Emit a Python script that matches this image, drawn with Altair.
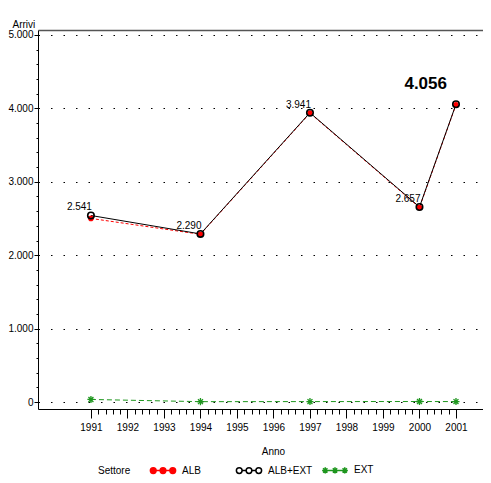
import altair as alt
import pandas as pd

years = [1991, 1994, 1997, 2000, 2001]
alb = [2501, 2285, 3935, 2650, 4050]
alb_ext = [2541, 2290, 3941, 2657, 4056]
ext = [35, 5, 6, 7, 6]
labels = ["2.541", "2.290", "3.941", "2.657", "4.056"]
series = ["ALB", "ALB+EXT", "EXT"]
colors = ["#ff0000", "#000000", "#1e961e"]

rows = []
for s, vals in zip(series, [alb, alb_ext, ext]):
    for y, v in zip(years, vals):
        rows.append({"Anno": y, "Arrivi": v, "Settore": s})
df = pd.DataFrame(rows)
lab = pd.DataFrame({"Anno": years, "Arrivi": alb_ext, "Label": labels})

FONT = "Liberation Sans, Arial, sans-serif"
FS = 10

x_ticks = [round(1991 + i * 0.2, 1) for i in range(51)]
y_ticks = list(range(0, 5001, 200))

xscale = alt.Scale(domain=[1989.55, 2001.74], nice=False, zero=False)
yscale = alt.Scale(domain=[-95, 5068], nice=False, zero=False)

x_axis = alt.Axis(
    values=x_ticks,
    labelExpr="abs(datum.value - round(datum.value)) < 0.01 ? format(datum.value, 'd') : ''",
    tickSize=alt.condition("abs(datum.value - round(datum.value)) < 0.01", alt.value(9), alt.value(5)),
    labelOverlap=False, labelFlush=False, grid=False,
    domainColor="black", tickColor="black", labelPadding=4,
    title="Anno", titleX=235, titleY=45, titleBaseline="alphabetic",
    titleFontWeight="normal",
)
y_axis = alt.Axis(
    values=y_ticks,
    labelExpr="datum.value % 1000 == 0 ? replace(format(datum.value, ','), ',', '.') : ''",
    tickSize=alt.condition("datum.value % 1000 == 0", alt.value(4), alt.value(2)),
    grid=True,
    gridOpacity=alt.condition("datum.value % 1000 == 0", alt.value(1), alt.value(0)),
    gridColor="black", gridDash=[1.5, 11], gridWidth=1,
    domainColor="black", tickColor="black", labelPadding=1,
    labelOverlap=False,
    title="Arrivi", titleAngle=0, titleAlign="left", titleX=-26, titleY=-3,
    titleBaseline="alphabetic", titleFontWeight="normal",
)

base = alt.Chart(df)
X = alt.X("Anno:Q", scale=xscale, axis=x_axis)
Y = alt.Y("Arrivi:Q", scale=yscale, axis=y_axis)
Xn = alt.X("Anno:Q", scale=xscale, axis=None)

line_alb = base.transform_filter("datum.Settore == 'ALB'").mark_line(
    color="#ff0000", strokeWidth=1, strokeDash=[3, 2]).encode(x=X, y=Y)
line_tot = base.transform_filter("datum.Settore == 'ALB+EXT'").mark_line(
    color="#000000", strokeWidth=1).encode(x=Xn, y=Y)
line_ext = base.transform_filter("datum.Settore == 'EXT'").mark_line(
    color="#1e961e", strokeWidth=1, strokeDash=[5, 3]).encode(x=Xn, y=Y)

top_line = base.mark_point(opacity=0).encode(
    x=alt.X("Anno:Q", scale=xscale,
            axis=alt.Axis(orient="top", ticks=False, labels=False, grid=False,
                          domainColor="#555555", domainWidth=1.5, title=None)),
    y=Y,
)

star_unit = "M0,-1L0,1M-1,0L1,0M-0.7,-0.7L0.7,0.7M-0.7,0.7L0.7,-0.7"

pts_alb = base.transform_filter("datum.Settore == 'ALB'").mark_point(
    shape="circle", filled=True, color="#ff0000", size=32, opacity=1).encode(x=Xn, y=Y)
pts_tot = base.transform_filter("datum.Settore == 'ALB+EXT'").mark_point(
    shape="circle", filled=False, color="#000000", size=42, strokeWidth=1.6, opacity=1).encode(x=Xn, y=Y)
pts_ext = base.transform_filter("datum.Settore == 'EXT'").mark_point(
    shape=star_unit, filled=False, color="#1e961e", size=50, strokeWidth=1.3, opacity=1).encode(x=Xn, y=Y)


def circ(cx, r):
    return (f"M{cx + r:.3f},0A{r},{r} 0 1,1 {cx - r:.3f},0"
            f"A{r},{r} 0 1,1 {cx + r:.3f},0Z")


def star(cx, r):
    d = r * 0.7
    return (f"M{cx:.3f},{-r}L{cx:.3f},{r}M{cx - r:.3f},0L{cx + r:.3f},0"
            f"M{cx - d:.3f},{-d:.3f}L{cx + d:.3f},{d:.3f}M{cx - d:.3f},{d:.3f}L{cx + d:.3f},{-d:.3f}")


cs = [-0.75, 0, 0.75]
r = 0.22
conn = "M-0.53,0L-0.22,0M0.22,0L0.53,0"
circ3 = "".join(circ(c, r) for c in cs) + conn
star3 = "".join(star(c, 0.24) for c in cs) + "M-0.51,0L-0.24,0M0.24,0L0.51,0"

leg = alt.Legend(title="Settore", orient="none", direction="horizontal",
                 legendX=60, legendY=426, titleOrient="left",
                 titleAnchor="middle", titleBaseline="top",
                 symbolOpacity=1, symbolSize=676, symbolStrokeWidth=1.5,
                 columnPadding=6, gridAlign="all", titlePadding=18,
                 labelOffset=5, padding=0)

legend_layer = base.mark_point(opacity=0, size=676, strokeWidth=1.5).encode(
    x=Xn, y=Y,
    shape=alt.Shape("Settore:N", scale=alt.Scale(domain=series, range=[circ3, circ3, star3]), legend=leg),
    fill=alt.Fill("Settore:N", scale=alt.Scale(domain=series, range=["#ff0000", "transparent", "transparent"]),
                  legend=leg),
    stroke=alt.Stroke("Settore:N", scale=alt.Scale(domain=series, range=colors), legend=leg),
)

small = alt.Chart(lab[lab["Anno"] != 2001]).mark_text(
    align="right", baseline="alphabetic", dx=1, dy=-5, fontSize=FS, font=FONT, color="black"
).encode(x=Xn, y=Y, text="Label:N")
big = alt.Chart(lab[lab["Anno"] == 2001]).mark_text(
    align="right", baseline="alphabetic", dx=-9, dy=-15, fontSize=17, fontWeight="bold",
    font=FONT, color="black"
).encode(x=Xn, y=Y, text="Label:N")

chart = alt.layer(line_alb, line_tot, line_ext, top_line, pts_alb, pts_tot, pts_ext,
                  legend_layer, small, big).resolve_axis(
    x="independent"
).properties(
    width=445, height=379,
    autosize=alt.AutoSizeParams(type="none"),
    padding={"left": 30, "top": 22, "right": 0, "bottom": 66},
    background="white",
).configure_view(stroke=None).configure_axis(
    labelFont=FONT, titleFont=FONT, labelFontSize=FS, titleFontSize=FS, labelColor="black",
    titleColor="black",
).configure_legend(
    labelFont=FONT, titleFont=FONT, labelFontSize=FS, titleFontSize=FS, titleFontWeight="normal",
    labelColor="black", titleColor="black",
)

chart.save("out.html", embed_options={"renderer": "svg", "actions": False})
